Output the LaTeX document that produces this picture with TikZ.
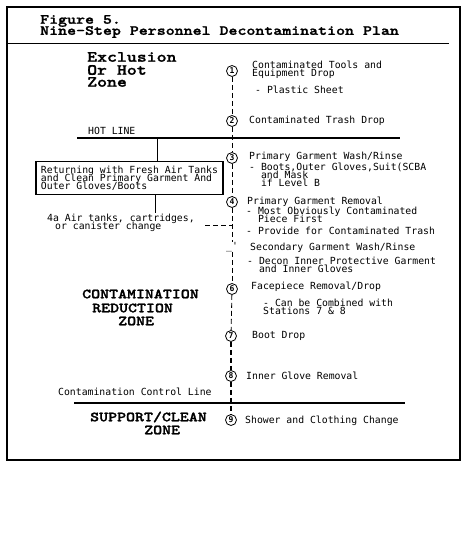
\documentclass[tikz,border=0pt]{standalone}
\usepackage{fontspec}
\newfontfamily\notefont{DejaVu Sans Mono}
\newfontfamily\zonefont{lmmonolt10-bold}[Extension=.otf, FakeBold=1.5, FakeStretch=1.22]
\newcommand\notesize{\notefont\fontsize{9.8}{8.2}\selectfont\lineskiplimit=-20pt\relax}
\newcommand\headsize[1]{\zonefont\fontsize{#1}{13}\selectfont}
\usetikzlibrary{arrows.meta}

\begin{document}
\begin{tikzpicture}[x=1pt, y=-1pt,
	every node/.style={inner sep=0pt},
	head/.style={anchor=west, font=\headsize{14}},
	zone/.style={anchor=west, font=\headsize{14}},
	note/.style={anchor=west, align=left, font=\notesize},
	stn/.style={draw, circle, minimum size=11pt, line width=0.8pt, font=\notefont\bfseries\fontsize{8}{8}\selectfont},
	trail/.style={dash pattern=on 5pt off 3pt, line width=0.8pt}]
	\useasboundingbox (0,0) rectangle (469,541);
	\draw[line width=2pt] (7,7) rectangle (460,460);
	% title
	\node[head] (fig) at (40,21) {Figure 5.};
	\node[head] (plan) at (40,32) {Nine-Step Personnel Decontamination Plan};
	\draw[line width=1pt] (7,43) -- (449,43);
	% zones
	\node[zone, font=\headsize{15.5}] (ex1) at (87,57) {Exclusion};
	\node[zone, font=\headsize{15.5}] (ex2) at (87,70) {Or Hot};
	\node[zone, font=\headsize{15.5}] (ex3) at (87,82) {Zone};
	\node[zone] (cr1) at (82,294) {CONTAMINATION};
	\node[zone] (cr2) at (92,308) {REDUCTION};
	\node[zone] (cr3) at (118,321) {ZONE};
	\node[zone] (sc1) at (90,417) {SUPPORT/CLEAN};
	\node[zone] (sc2) at (144,430) {ZONE};
	% lines between zones
	\node[note] (hot) at (88,131) {HOT LINE};
	\draw[line width=1.6pt] (77,138) -- (400,138);
	\node[note] (ccl) at (58,392) {Contamination Control Line};
	\draw[line width=1.6pt] (74,403) -- (405,403);
	% stations
	\node[stn] (s1) at (232,71) {1};
	\node[stn] (s2) at (232,121) {2};
	\node[stn] (s3) at (232,158) {3};
	\node[stn] (s4) at (232,202) {4};
	\node[note, anchor=center] (s5) at (232,247) {\_'};
	\node[stn] (s6) at (232,289) {6};
	\node[stn] (s7) at (231,336) {7};
	\node[stn] (s8) at (231,376) {8};
	\node[stn] (s9) at (231,420) {9};
	\draw[trail] (s1) -- (s2);
	\draw[trail] (s2) -- (s3);
	\draw[trail] (s3) -- (s4);
	\draw[trail] (s4) -- (s5);
	\draw[trail] (s5) -- (s6);
	\draw[trail] (s6) -- (s7);
	\draw[trail, line width=1.8pt] (s7) -- (s8);
	\draw[trail, line width=1.2pt] (s8) -- (s9);
	% station notes
	\node[note] (n1) at (252,70) {Contaminated Tools and\\Equipment Drop};
	\node[note] (n1b) at (255,90) {- Plastic Sheet};
	\node[note] (n2) at (249,121) {Contaminated Trash Drop};
	\node[note] (n3) at (249,157) {Primary Garment Wash/Rinse};
	\node[note] (n3b) at (249,175) {- Boots,Outer Gloves,Suit(SCBA\\\hphantom{- }and Mask\\\hphantom{- }if Level B};
	\node[note] (n4) at (247,202) {Primary Garment Removal};
	\node[note] (n4b) at (246,215) {- Most Obviously Contaminated\\\hphantom{- }Piece First};
	\node[note] (n4c) at (246,231) {- Provide for Contaminated Trash};
	\node[note] (n5) at (250,248) {Secondary Garment Wash/Rinse};
	\node[note] (n5b) at (247,264.5) {- Decon Inner Protective Garment\\\hphantom{- }and Inner Gloves};
	\node[note] (n6) at (251,287) {Facepiece Removal/Drop};
	\node[note] (n6b) at (263,306.5) {- Can be Combined with\\Stations 7 \& 8};
	\node[note] (n7) at (252,336) {Boot Drop};
	\node[note] (n8) at (246,376) {Inner Glove Removal};
	\node[note] (n9) at (245,421) {Shower and Clothing Change};
	% return route
	\node[draw, line width=1.6pt, inner sep=4pt, minimum width=187pt, minimum height=30pt, align=left, font=\notesize] (ret) at (129.5,178) {Returning with Fresh Air Tanks\\and Clean Primary Garment And\\Outer Gloves/Boots};
	\coordinate (hl) at (157,138);
	\draw[line width=0.8pt] (hl) -- (hl |- ret.north);
	\coordinate (tank) at (155,213);
	\draw[line width=0.8pt] (ret.south -| tank) -- (tank);
	\node[note] (alt) at (47,223) {4a Air tanks, cartridges,\\\hspace*{8pt}or canister change};
	\coordinate (swap) at (205,225);
	\draw[trail] (swap) -- (swap -| s4);
\end{tikzpicture}
\end{document}
